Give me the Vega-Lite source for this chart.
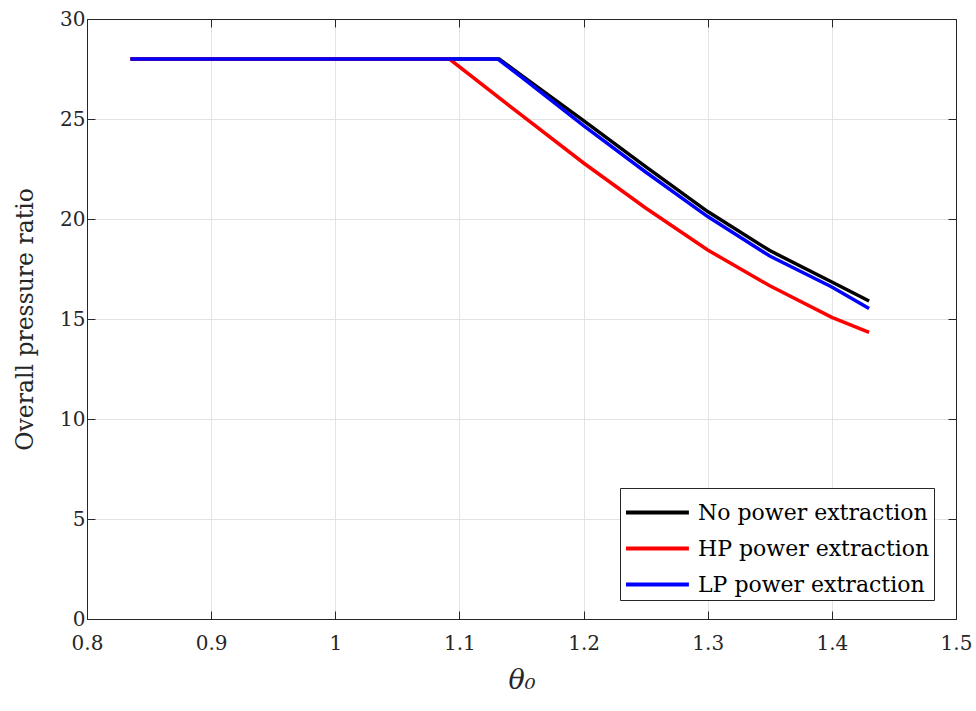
{
  "$schema": "https://vega.github.io/schema/vega-lite/v6.json",
  "width": 869,
  "height": 600,
  "autosize": {"type": "none"},
  "padding": {"left": 87, "top": 19, "right": 20, "bottom": 92},
  "background": "white",
  "config": {
    "view": {"stroke": "#262626", "strokeWidth": 1},
    "font": "DejaVu Serif",
    "axis": {
      "labelFont": "DejaVu Serif",
      "titleFont": "DejaVu Serif",
      "labelFontSize": 20,
      "titleFontSize": 23.5,
      "labelColor": "#262626",
      "titleColor": "#262626",
      "titleFontWeight": "normal",
      "domainColor": "#262626",
      "tickColor": "#262626",
      "tickWidth": 1,
      "gridColor": "#e3e3e3",
      "gridWidth": 1
    }
  },
  "data": {
    "values": [
      {"theta": 0.835, "opr": 28, "series": "No power extraction"},
      {"theta": 1.132, "opr": 28, "series": "No power extraction"},
      {"theta": 1.15, "opr": 27.18, "series": "No power extraction"},
      {"theta": 1.2, "opr": 24.92, "series": "No power extraction"},
      {"theta": 1.25, "opr": 22.62, "series": "No power extraction"},
      {"theta": 1.3, "opr": 20.37, "series": "No power extraction"},
      {"theta": 1.35, "opr": 18.42, "series": "No power extraction"},
      {"theta": 1.4, "opr": 16.85, "series": "No power extraction"},
      {"theta": 1.43, "opr": 15.9, "series": "No power extraction"},
      {"theta": 0.835, "opr": 28, "series": "HP power extraction"},
      {"theta": 1.092, "opr": 28, "series": "HP power extraction"},
      {"theta": 1.15, "opr": 25.19, "series": "HP power extraction"},
      {"theta": 1.2, "opr": 22.8, "series": "HP power extraction"},
      {"theta": 1.25, "opr": 20.55, "series": "HP power extraction"},
      {"theta": 1.3, "opr": 18.45, "series": "HP power extraction"},
      {"theta": 1.35, "opr": 16.66, "series": "HP power extraction"},
      {"theta": 1.4, "opr": 15.08, "series": "HP power extraction"},
      {"theta": 1.43, "opr": 14.33, "series": "HP power extraction"},
      {"theta": 0.835, "opr": 28, "series": "LP power extraction"},
      {"theta": 1.131, "opr": 28, "series": "LP power extraction"},
      {"theta": 1.15, "opr": 27.1, "series": "LP power extraction"},
      {"theta": 1.2, "opr": 24.67, "series": "LP power extraction"},
      {"theta": 1.25, "opr": 22.35, "series": "LP power extraction"},
      {"theta": 1.3, "opr": 20.12, "series": "LP power extraction"},
      {"theta": 1.35, "opr": 18.15, "series": "LP power extraction"},
      {"theta": 1.4, "opr": 16.6, "series": "LP power extraction"},
      {"theta": 1.43, "opr": 15.53, "series": "LP power extraction"}
    ]
  },
  "layer": [
    {
      "mark": {"type": "line", "strokeWidth": 3.5},
      "encoding": {
        "x": {
          "field": "theta", "type": "quantitative",
          "scale": {"domain": [0.8, 1.5], "nice": false},
          "axis": {"orient": "bottom", "title": "θ₀", "titleFontSize": 27, "titleFontStyle": "italic", "values": [0.8, 0.9, 1, 1.1, 1.2, 1.3, 1.4, 1.5], "format": "~g", "tickSize": -8, "labelPadding": 22, "titlePadding": 14, "labelFlush": false}
        },
        "y": {
          "field": "opr", "type": "quantitative",
          "scale": {"domain": [0, 30], "nice": false},
          "axis": {"orient": "left", "title": "Overall pressure ratio", "values": [0, 5, 10, 15, 20, 25, 30], "tickSize": -8, "labelPadding": 10, "titlePadding": 22, "labelFlush": false}
        },
        "color": {
          "field": "series", "type": "nominal",
          "scale": {"domain": ["No power extraction", "HP power extraction", "LP power extraction"], "range": ["#000000", "#ff0000", "#0000ff"]},
          "legend": {
            "title": null,
            "orient": "none",
            "legendX": 533,
            "legendY": 469,
            "symbolType": "M-1,0H2.4",
            "symbolSize": 1369,
            "symbolStrokeWidth": 4,
            "labelOffset": 33,
            "labelFontSize": 22,
            "labelFont": "DejaVu Serif",
            "labelColor": "#000000",
            "rowPadding": 4,
            "padding": 4,
            "strokeColor": "#262626",
            "fillColor": "white",
            "labelLimit": 400
          }
        },
        "order": {"field": "theta"}
      }
    },
    {
      "mark": {"type": "line", "strokeOpacity": 0},
      "encoding": {
        "x": {
          "field": "theta", "type": "quantitative",
          "axis": {"orient": "top", "title": null, "labels": false, "grid": false, "values": [0.8, 0.9, 1, 1.1, 1.2, 1.3, 1.4, 1.5], "tickSize": -8}
        },
        "y": {
          "field": "opr", "type": "quantitative",
          "axis": {"orient": "right", "title": null, "labels": false, "grid": false, "values": [0, 5, 10, 15, 20, 25, 30], "tickSize": -8}
        },
        "detail": {"field": "series"}
      }
    }
  ],
  "resolve": {"axis": {"x": "independent", "y": "independent"}}
}
